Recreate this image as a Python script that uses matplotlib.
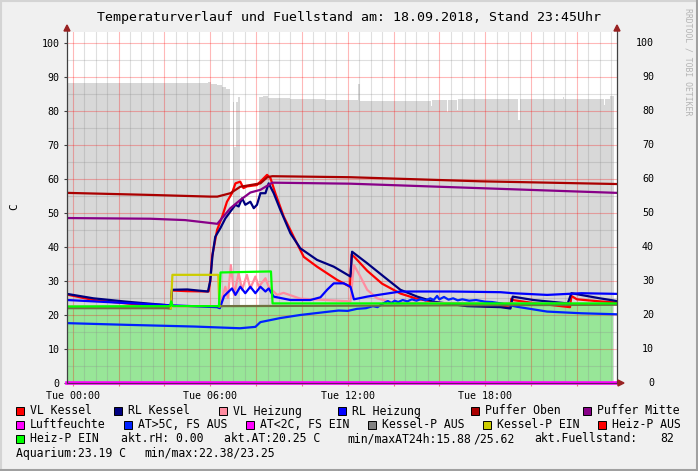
import numpy as np
import matplotlib.pyplot as plt
from matplotlib.patches import Rectangle, Polygon
from matplotlib.lines import Line2D

# hours since Tue 00:00, window 23:45 (Mon) .. 23:45 (Tue)
t0, t1 = -0.25, 23.75

# Fuellstand (grey area), step values, nan = no data
fs_t = [-0.25, 5.9, 6.05, 6.3, 6.5, 6.7, 6.85, 6.9, 6.98, 7.03, 7.11, 7.2, 7.29, 7.32,
        7.9, 8.12, 8.3, 8.5, 9.5, 11.0, 12.45, 12.52, 15.62, 15.66, 16.33, 16.37,
        16.77, 16.81, 19.45, 19.5, 21.4, 21.45, 23.17, 23.21, 23.45, 23.62, 23.72, 23.75]
fs_v = [88.2, 88.5, 88.0, 87.5, 87.0, 86.5, 86.0, np.nan, 82.5, 69.5, 82.7, 84.2, 80.3, 84.5,
        np.nan, 84.0, 84.5, 83.7, 83.5, 83.3, 88.0, 83.0, 81.5, 83.2, 79.8, 83.3,
        80.3, 83.4, 77.4, 83.4, 84.0, 83.4, 81.8, 83.4, 84.4, 84.0, np.nan, np.nan]

# Aquarium (green area)
aq_t = [-0.25, 6.0, 12.0, 18.0, 23.55, 23.57, 23.75]
aq_v = [22.3, 22.4, 22.9, 23.2, 23.2, np.nan, np.nan]

vlk_t = [-0.25, 0.9, 2.5, 4.2, 4.28, 4.33, 5.0, 5.93, 6.0, 6.08, 6.3, 6.52, 6.73, 6.95, 7.1,
         7.31, 7.45, 7.6, 8.04, 8.26, 8.48, 8.63, 8.84, 9.21, 9.64, 10.08, 10.66, 11.54,
         12.1, 12.17, 12.3, 12.85, 13.5, 14.3, 15.0, 16.0, 17.0, 18.67, 19.1, 19.14, 19.2,
         20.0, 21.7, 21.76, 22.0, 23.0, 23.75]
vlk_v = [26.0, 24.4, 23.3, 22.0, 22.0, 27.2, 27.0, 26.9, 30.0, 37.1, 45.0, 48.9, 53.3, 55.8, 58.7,
         59.2, 57.3, 57.8, 58.2, 59.7, 61.2, 60.2, 55.8, 48.9, 43.0, 37.1, 34.2, 30.3,
         28.3, 37.8, 37.0, 33.0, 29.2, 26.3, 24.8, 23.5, 22.9, 22.4, 22.2, 24.8, 24.4,
         23.6, 22.3, 25.6, 24.6, 24.0, 23.7]

rlk_t = [-0.25, 0.9, 2.36, 4.1, 4.28, 4.33, 5.0, 5.9, 6.0, 6.1, 6.22, 6.44, 6.66, 6.88, 7.1,
         7.24, 7.39, 7.53, 7.75, 7.9, 8.04, 8.19, 8.41, 8.55, 8.77, 9.06, 9.5, 9.93, 10.66,
         11.39, 12.12, 12.19, 12.85, 13.57, 14.3, 15.03, 15.75, 17.2, 18.67, 19.1, 19.2,
         20.1, 21.6, 21.76, 23.0, 23.75]
rlk_v = [26.2, 24.9, 23.9, 22.9, 22.8, 27.4, 27.5, 26.9, 30.0, 37.6, 43.0, 45.5, 48.4, 50.4, 52.4,
         51.9, 54.3, 52.4, 53.3, 51.4, 52.4, 55.8, 55.8, 58.7, 55.8, 50.9, 44.0, 39.6, 36.2,
         34.2, 31.3, 38.6, 35.2, 31.3, 27.4, 25.4, 23.9, 22.6, 22.3, 21.9, 25.4,
         24.4, 23.4, 26.4, 24.9, 24.1]

vlh_t = [-0.25, 6.4, 6.66, 6.77, 6.9, 7.04, 7.24, 7.39, 7.6, 7.75, 7.97, 8.12, 8.41, 8.55,
         8.92, 9.2, 9.93, 12.12, 12.27, 12.55, 12.85, 13.28, 14.0, 23.75]
vlh_v = [22.5, 22.5, 28.3, 25.0, 34.7, 25.9, 32.3, 27.4, 31.8, 27.8, 31.3, 28.3, 30.8, 28.3,
         25.9, 26.5, 24.8, 24.0, 34.7, 31.3, 27.4, 24.9, 23.6, 23.2]

rlh_t = [-0.25, 4.1, 6.3, 6.42, 6.6, 6.73, 6.95, 7.1, 7.31, 7.53, 7.75, 7.97, 8.19, 8.41,
         8.55, 8.77, 9.5, 10.37, 10.81, 11.1, 11.39, 11.83, 12.12, 12.27, 12.85, 14.3,
         16.5, 18.67, 19.2, 20.7, 22.2, 23.75]
rlh_v = [24.4, 22.9, 22.3, 22.0, 25.5, 26.4, 27.8, 25.9, 28.3, 26.4, 28.3, 26.4, 28.3, 26.9,
         27.8, 25.4, 24.4, 24.4, 25.2, 27.4, 29.3, 29.3, 28.3, 24.6, 25.4, 26.9,
         26.9, 26.7, 26.4, 25.9, 26.4, 26.2]

po_t = [-0.25, 3.38, 6.0, 6.31, 6.88, 7.31, 7.75, 8.19, 8.49, 8.71, 12.12, 17.8, 23.75]
po_v = [55.9, 55.3, 54.8, 54.8, 55.8, 57.7, 58.2, 58.7, 60.5, 60.8, 60.5, 59.3, 58.5]

pm_t = [-0.25, 3.38, 4.9, 6.31, 6.88, 7.31, 7.75, 8.19, 8.71, 12.12, 23.75]
pm_v = [48.5, 48.3, 47.9, 46.8, 51.4, 53.8, 56.0, 56.8, 58.9, 58.6, 55.9]

at_t = [-0.25, 2.36, 5.3, 7.3, 7.97, 8.19, 9.06, 9.93, 11.2, 11.6, 12.0, 12.4, 12.8, 13.1,
        13.3, 13.5, 13.6, 13.75, 13.9, 14.05, 14.2, 14.4, 14.6, 14.8, 15.0, 15.2, 15.4,
        15.6, 15.75, 15.9, 16.0, 16.2, 16.4, 16.6, 16.8, 17.0, 17.3, 17.6, 18.0, 18.3,
        18.67, 19.4, 20.7, 22.2, 23.75]
at_v = [17.6, 17.1, 16.6, 16.1, 16.5, 17.9, 19.1, 20.0, 21.0, 21.3, 21.2, 21.8, 22.0, 22.6,
        22.3, 23.2, 23.6, 24.1, 23.5, 24.2, 23.8, 24.4, 24.0, 24.6, 24.2, 24.7, 24.3,
        24.9, 24.4, 25.6, 24.6, 25.3, 24.5, 24.9, 24.3, 24.6, 24.2, 24.4, 23.9, 23.8,
        23.4, 22.4, 21.0, 20.5, 20.2]

kpa_t = [-0.25, 4.28, np.nan, 6.4, 23.75]
kpa_v = [22.0, 22.0, np.nan, 22.6, 23.0]
kpe_t = [4.28, 4.35, 6.35, 6.4]
kpe_v = [22.0, 31.8, 31.8, 22.5]
hp_t = [-0.25, 4.25, 4.3, 4.36, 6.38, 6.45, 8.65, 8.72, 23.75]
hp_v = [22.5, 22.6, 24.0, 22.6, 22.6, 32.5, 32.8, 23.4, 23.4]
rh_t = [-0.25, 23.75]
rh_v = [0.0, 0.0]

W, H = 698, 471
fx = lambda px: px / W
fy = lambda py: 1 - py / H
mono = 'DejaVu Sans Mono'

fig = plt.figure(figsize=(6.98, 4.71), dpi=100, facecolor='#F0F0F0')
ax = fig.add_axes([fx(67), fy(383), 550 / W, 351 / H])
ax.set_facecolor('white')

ax.fill_between(fs_t, 0, fs_v, step='post', color='#D8D8D8', lw=0, zorder=1)
ax.fill_between(aq_t, 0, aq_v, color='#98E698', lw=0, zorder=1.1)

lw = 1.6
ax.plot(vlk_t, vlk_v, color='#FF0000', lw=lw, zorder=2)
ax.plot(rlk_t, rlk_v, color='#000080', lw=lw, zorder=2.1)
ax.plot(vlh_t, vlh_v, color='#FF8CA0', lw=lw, zorder=2.2)
ax.plot(rlh_t, rlh_v, color='#0000FF', lw=lw, zorder=2.3)
ax.plot(po_t, po_v, color='#AA0000', lw=lw, zorder=2.4)
ax.plot(pm_t, pm_v, color='#880088', lw=lw, zorder=2.5)
ax.plot(rh_t, rh_v, color='#FF00FF', lw=2.6, zorder=2.6, clip_on=False)
ax.plot(at_t, at_v, color='#0022FF', lw=lw, zorder=2.7)
ax.plot(kpa_t, kpa_v, color='#707040', lw=lw, zorder=2.8)
ax.plot(kpe_t, kpe_v, color='#CCCC00', lw=lw, zorder=2.9)
ax.plot(hp_t, hp_v, color='#00FF00', lw=lw, zorder=3.0)

ax.set_xlim(t0, t1)
ax.set_ylim(0, 103.2)
ax.set_xticks(np.arange(0, 24, 2))
ax.set_xticklabels(['Tue %02d:00' % h if h % 6 == 0 else '' for h in range(0, 24, 2)])
ax.set_xticks(np.arange(0, 24, 0.5), minor=True)
ax.set_yticks(np.arange(0, 101, 10))
ax.set_yticks(np.arange(0, 104, 5), minor=True)
ax.set_axisbelow('line')
ax.grid(which='major', color='#FF0000', alpha=0.28, lw=0.8)
ax.grid(which='minor', color='#8C8C8C', alpha=0.28, lw=0.8)
ax.tick_params(axis='x', which='major', length=2.5, color='#E08080', pad=3, labelsize=7.2)
ax.tick_params(axis='y', which='major', length=2.5, color='#404040', pad=3, labelsize=7.2)
ax.tick_params(which='minor', length=0)
for lab in ax.get_xticklabels() + ax.get_yticklabels():
    lab.set_family(mono)
for s in ['top', 'left', 'right', 'bottom']:
    ax.spines[s].set_visible(False)

# right axis labels
for v in range(0, 101, 10):
    ax.text(fx(654) * W / 550 - 67 / 550, v, str(v), transform=ax.get_yaxis_transform(),
            ha='right', va='center', fontsize=7.2, family=mono)

# axis lines and arrows
ac = '#404040'
fig.add_artist(Line2D([fx(67), fx(67)], [fy(383), fy(29)], color=ac, lw=0.9, zorder=5))
fig.add_artist(Line2D([fx(617), fx(617)], [fy(383), fy(29)], color=ac, lw=0.9, zorder=5))
fig.add_artist(Line2D([fx(67), fx(619)], [fy(383), fy(383)], color='#602060', lw=0.8, zorder=5))
arr = '#992222'
for x in (67, 617):
    fig.add_artist(Polygon([[fx(x - 3), fy(31)], [fx(x + 3), fy(31)], [fx(x), fy(25)]],
                           closed=True, color=arr, transform=fig.transFigure, zorder=5))
fig.add_artist(Polygon([[fx(618), fy(380)], [fx(618), fy(386)], [fx(624), fy(383)]],
                       closed=True, color=arr, transform=fig.transFigure, zorder=5))

fig.text(0.5, fy(17), 'Temperaturverlauf und Fuellstand am: 18.09.2018, Stand 23:45Uhr',
         ha='center', va='center', fontsize=9.55, family=mono)
fig.text(fx(14), fy(207), 'C', rotation=90, ha='center', va='center', fontsize=8, family=mono)
fig.text(fx(688), fy(62), 'RRDTOOL / TOBI OETIKER', rotation=270, ha='center', va='center',
         fontsize=5.9, color='#B4B4B4', family=mono)

# legend
leg_rows = [
    (411, [(16, 'VL Kessel', '#FF0000'), (114, 'RL Kessel', '#000080'),
           (219, 'VL Heizung', '#FF8CA0'), (338, 'RL Heizung', '#0000FF'),
           (471, 'Puffer Oben', '#AA0000'), (583, 'Puffer Mitte', '#880088')]),
    (425, [(16, 'Luftfeuchte', '#FF00FF'), (124, 'AT>5C, FS AUS', '#0022FF'),
           (246, 'AT<2C, FS EIN', '#FF00FF'), (368, 'Kessel-P AUS', '#808080'),
           (483, 'Kessel-P EIN', '#CCCC00'), (598, 'Heiz-P AUS', '#FF0000')]),
    (439, [(16, 'Heiz-P EIN', '#00FF00')]),
]
for y, items in leg_rows:
    for x, label, col in items:
        fig.add_artist(Rectangle((fx(x), fy(y + 4)), 8 / W, 8 / H, facecolor=col,
                                 edgecolor='black', lw=0.7, transform=fig.transFigure))
        fig.text(fx(x + 14), fy(y), label, ha='left', va='center', fontsize=8.3, family=mono)

info = [(121, 439, 'akt.rH: 0.00'), (224, 439, 'akt.AT:20.25 C'),
        (347, 439, 'min/maxAT24h:15.88'), (473, 439, '/25.62'),
        (534, 439, 'akt.Fuellstand:'), (660, 439, '82'),
        (16, 453, 'Aquarium:23.19 C'), (144, 453, 'min/max:22.38/23.25')]
for x, y, s in info:
    fig.text(fx(x), fy(y), s, ha='left', va='center', fontsize=8.3, family=mono)

# frame
fig.add_artist(Line2D([0, 1], [fy(0.5), fy(0.5)], color='#D4D4D4', lw=1.5))
fig.add_artist(Line2D([fx(0.5), fx(0.5)], [0, 1], color='#D4D4D4', lw=1.5))
fig.add_artist(Line2D([0, 1], [fy(470), fy(470)], color='#A0A0A0', lw=2.2))
fig.add_artist(Line2D([fx(697), fx(697)], [0, 1], color='#A0A0A0', lw=2.2))

fig.savefig('out.png', dpi=100, facecolor=fig.get_facecolor())
